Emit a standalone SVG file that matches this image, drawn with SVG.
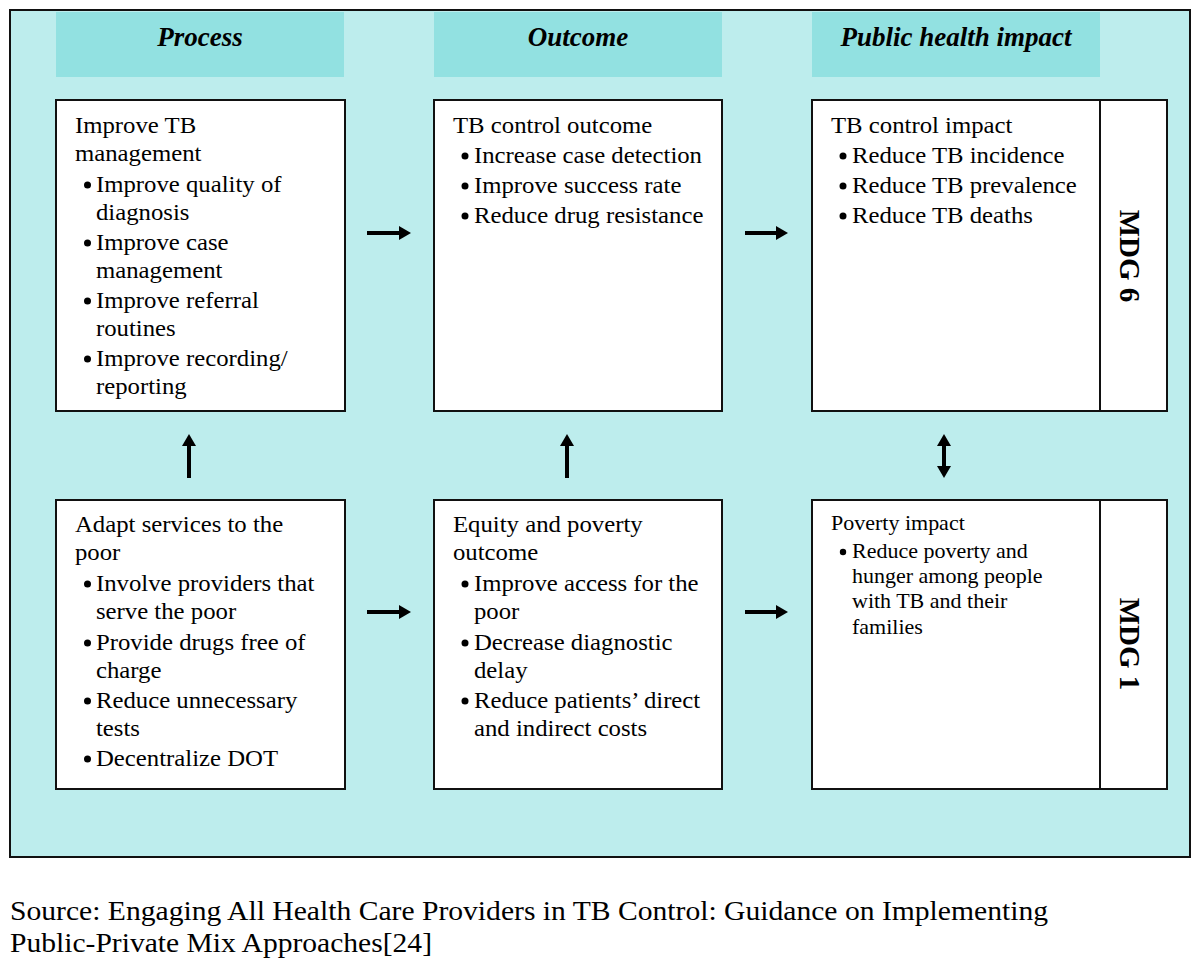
<svg xmlns="http://www.w3.org/2000/svg" width="1200" height="965" viewBox="0 0 1200 965">
<style>
.bg{fill:#BDEDED;stroke:#111;stroke-width:2}
.band{fill:#92E1E1}
.box{fill:#fff;stroke:#111;stroke-width:2}
.hd{font-family:"Liberation Serif","Times New Roman",serif;font-size:27px;font-weight:bold;font-style:italic;fill:#000;text-anchor:middle}
.t{font-family:"Liberation Serif","Times New Roman",serif;font-size:22.5px;fill:#000}
.s{font-family:"Liberation Serif","Times New Roman",serif;font-size:20px;fill:#000}
.mdg{font-family:"Liberation Serif","Times New Roman",serif;font-size:29px;font-weight:bold;fill:#000;text-anchor:middle}
.src{font-family:"Liberation Serif","Times New Roman",serif;font-size:28px;fill:#000}
.arr{stroke:#000;stroke-width:4;fill:none}
.dot{fill:#000}
</style>
<defs>
<marker id="ah" markerUnits="userSpaceOnUse" markerWidth="14" markerHeight="16" refX="0" refY="7" orient="auto-start-reverse" viewBox="0 0 14 16">
<path d="M0,0 L12,7 L0,14 Z" fill="#000"/>
</marker>
</defs>
<rect width="1200" height="965" fill="#fff"/>
<rect class="bg" x="10" y="10" width="1180" height="847"/>
<g id="headers">
<rect class="band" x="56" y="12" width="288" height="65"/>
<rect class="band" x="434" y="12" width="288" height="65"/>
<rect class="band" x="812" y="12" width="288" height="65"/>
<text class="hd" x="200" y="46">Process</text>
<text class="hd" x="578" y="46">Outcome</text>
<text class="hd" x="956" y="46">Public health impact</text>
</g>
<g id="improve-tb">
<rect class="box" x="56" y="100" width="289" height="311"/>
<circle class="dot" cx="87.5" cy="185" r="3.5"/>
<circle class="dot" cx="87.5" cy="243" r="3.5"/>
<circle class="dot" cx="87.5" cy="301" r="3.5"/>
<circle class="dot" cx="87.5" cy="359" r="3.5"/>
<g transform="matrix(1.1 0 0 1 75 0)">
<text class="t" x="0" y="133">Improve TB</text>
<text class="t" x="0" y="161">management</text>
<text class="t" x="19.1" y="192">Improve quality of</text>
<text class="t" x="19.1" y="220">diagnosis</text>
<text class="t" x="19.1" y="250">Improve case</text>
<text class="t" x="19.1" y="278">management</text>
<text class="t" x="19.1" y="308">Improve referral</text>
<text class="t" x="19.1" y="336">routines</text>
<text class="t" x="19.1" y="366">Improve recording/</text>
<text class="t" x="19.1" y="394">reporting</text>
</g>
</g>
<g id="tb-outcome">
<rect class="box" x="434" y="100" width="288" height="311"/>
<circle class="dot" cx="465" cy="156" r="3.5"/>
<circle class="dot" cx="465" cy="186" r="3.5"/>
<circle class="dot" cx="465" cy="216" r="3.5"/>
<g transform="matrix(1.1 0 0 1 453 0)">
<text class="t" x="0" y="133">TB control outcome</text>
<text class="t" x="19.1" y="163">Increase case detection</text>
<text class="t" x="19.1" y="193">Improve success rate</text>
<text class="t" x="19.1" y="223">Reduce drug resistance</text>
</g>
</g>
<g id="tb-impact">
<rect class="box" x="812" y="100" width="355" height="311"/>
<line x1="1100" y1="100" x2="1100" y2="411" stroke="#111" stroke-width="2"/>
<circle class="dot" cx="843" cy="156" r="3.5"/>
<circle class="dot" cx="843" cy="186" r="3.5"/>
<circle class="dot" cx="843" cy="216" r="3.5"/>
<g transform="matrix(1.1 0 0 1 831 0)">
<text class="t" x="0" y="133">TB control impact</text>
<text class="t" x="19.1" y="163">Reduce TB incidence</text>
<text class="t" x="19.1" y="193">Reduce TB prevalence</text>
<text class="t" x="19.1" y="223">Reduce TB deaths</text>
</g>
<text class="mdg" transform="translate(1120,256) rotate(90)">MDG 6</text>
</g>
<g id="adapt-services">
<rect class="box" x="56" y="500" width="289" height="289"/>
<circle class="dot" cx="87.5" cy="584" r="3.5"/>
<circle class="dot" cx="87.5" cy="643" r="3.5"/>
<circle class="dot" cx="87.5" cy="701" r="3.5"/>
<circle class="dot" cx="87.5" cy="759" r="3.5"/>
<g transform="matrix(1.1 0 0 1 75 0)">
<text class="t" x="0" y="532">Adapt services to the</text>
<text class="t" x="0" y="560">poor</text>
<text class="t" x="19.1" y="591">Involve providers that</text>
<text class="t" x="19.1" y="619">serve the poor</text>
<text class="t" x="19.1" y="650">Provide drugs free of</text>
<text class="t" x="19.1" y="678">charge</text>
<text class="t" x="19.1" y="708">Reduce unnecessary</text>
<text class="t" x="19.1" y="736">tests</text>
<text class="t" x="19.1" y="766">Decentralize DOT</text>
</g>
</g>
<g id="equity-outcome">
<rect class="box" x="434" y="500" width="288" height="289"/>
<circle class="dot" cx="465" cy="584" r="3.5"/>
<circle class="dot" cx="465" cy="643" r="3.5"/>
<circle class="dot" cx="465" cy="701" r="3.5"/>
<g transform="matrix(1.1 0 0 1 453 0)">
<text class="t" x="0" y="532">Equity and poverty</text>
<text class="t" x="0" y="560">outcome</text>
<text class="t" x="19.1" y="591">Improve access for the</text>
<text class="t" x="19.1" y="619">poor</text>
<text class="t" x="19.1" y="650">Decrease diagnostic</text>
<text class="t" x="19.1" y="678">delay</text>
<text class="t" x="19.1" y="708">Reduce patients’ direct</text>
<text class="t" x="19.1" y="736">and indirect costs</text>
</g>
</g>
<g id="poverty-impact">
<rect class="box" x="812" y="500" width="355" height="289"/>
<line x1="1100" y1="500" x2="1100" y2="789" stroke="#111" stroke-width="2"/>
<circle class="dot" cx="843" cy="552" r="3.2"/>
<g transform="matrix(1.1 0 0 1 831 0)">
<text class="s" x="0" y="530">Poverty impact</text>
<text class="s" x="19.1" y="558">Reduce poverty and</text>
<text class="s" x="19.1" y="583">hunger among people</text>
<text class="s" x="19.1" y="608">with TB and their</text>
<text class="s" x="19.1" y="634">families</text>
</g>
<text class="mdg" transform="translate(1120,644) rotate(90)">MDG 1</text>
</g>
<g id="connectors">
<line class="arr" x1="367" y1="233" x2="399" y2="233" marker-end="url(#ah)"/>
<line class="arr" x1="745" y1="233" x2="776" y2="233" marker-end="url(#ah)"/>
<line class="arr" x1="367" y1="612" x2="399" y2="612" marker-end="url(#ah)"/>
<line class="arr" x1="745" y1="612" x2="776" y2="612" marker-end="url(#ah)"/>
<line class="arr" x1="189" y1="478" x2="189" y2="446" marker-end="url(#ah)"/>
<line class="arr" x1="567" y1="478" x2="567" y2="446" marker-end="url(#ah)"/>
<line class="arr" x1="944" y1="446" x2="944" y2="466" marker-start="url(#ah)" marker-end="url(#ah)"/>
</g>
<g id="source">
<text class="src" x="10" y="920" textLength="1038" lengthAdjust="spacingAndGlyphs">Source: Engaging All Health Care Providers in TB Control: Guidance on Implementing</text>
<text class="src" x="10" y="952" textLength="422" lengthAdjust="spacingAndGlyphs">Public-Private Mix Approaches[24]</text>
</g>
</svg>
